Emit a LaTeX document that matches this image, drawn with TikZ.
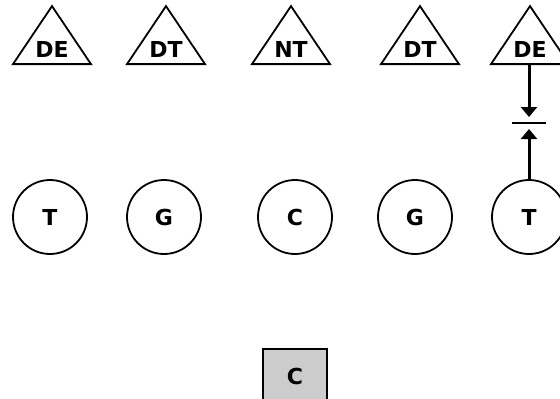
\documentclass[tikz,border=0pt]{standalone}
\usepackage{fontspec}
\setsansfont{DejaVu Sans}
\usetikzlibrary{shapes.geometric,arrows.meta,calc}

\tikzset{
    schrift/.style={font=\sffamily\bfseries\fontsize{22}{22}\selectfont},
    abwehr/.style={isosceles triangle, isosceles triangle stretches, shape border rotate=90,
        draw, line width=1.8pt, minimum width=78pt, minimum height=58pt, inner sep=0pt, anchor=south, schrift},
    angriff/.style={circle, draw, line width=1.8pt, minimum size=74pt, inner sep=0pt, schrift},
    ball/.style={rectangle, draw, line width=1.8pt, fill=black!20, minimum width=64pt, minimum height=54pt, inner sep=0pt, schrift},
    pfeil/.style={line width=3pt, -{Triangle[length=10pt, width=16pt]}}
}

\begin{document}
\begin{tikzpicture}[x=1pt, y=-1pt]
    \useasboundingbox (0,0) rectangle (560,399);
    \path node[abwehr] (DE1) at (52,65) {DE}
        node[abwehr] (DT1) at (166,65) {DT}
        node[abwehr] (NT) at (291,65) {NT}
        node[abwehr] (DT2) at (420,65) {DT}
        node[abwehr] (DE2) at (530,65) {DE};
    \path node[angriff] (T1) at (50,217) {T}
        node[angriff] (G1) at (164,217) {G}
        node[angriff] (C) at (295,217) {C}
        node[angriff] (G2) at (415,217) {G}
        node[angriff] (T2) at (529,217) {T};
    \node[ball] (QB) at (295,376) {C};
    \coordinate (BL) at (512,123);
    \coordinate (BR) at (546,123);
    \draw[line width=2.2pt] (BL) -- (BR);
    \draw[pfeil] (DE2.south -| T2.north) -- ([yshift=6pt]$(BL)!0.5!(BR)$);
    \draw[pfeil] (T2.north) -- ([yshift=-6pt]$(BL)!0.5!(BR)$);
\end{tikzpicture}
\end{document}
